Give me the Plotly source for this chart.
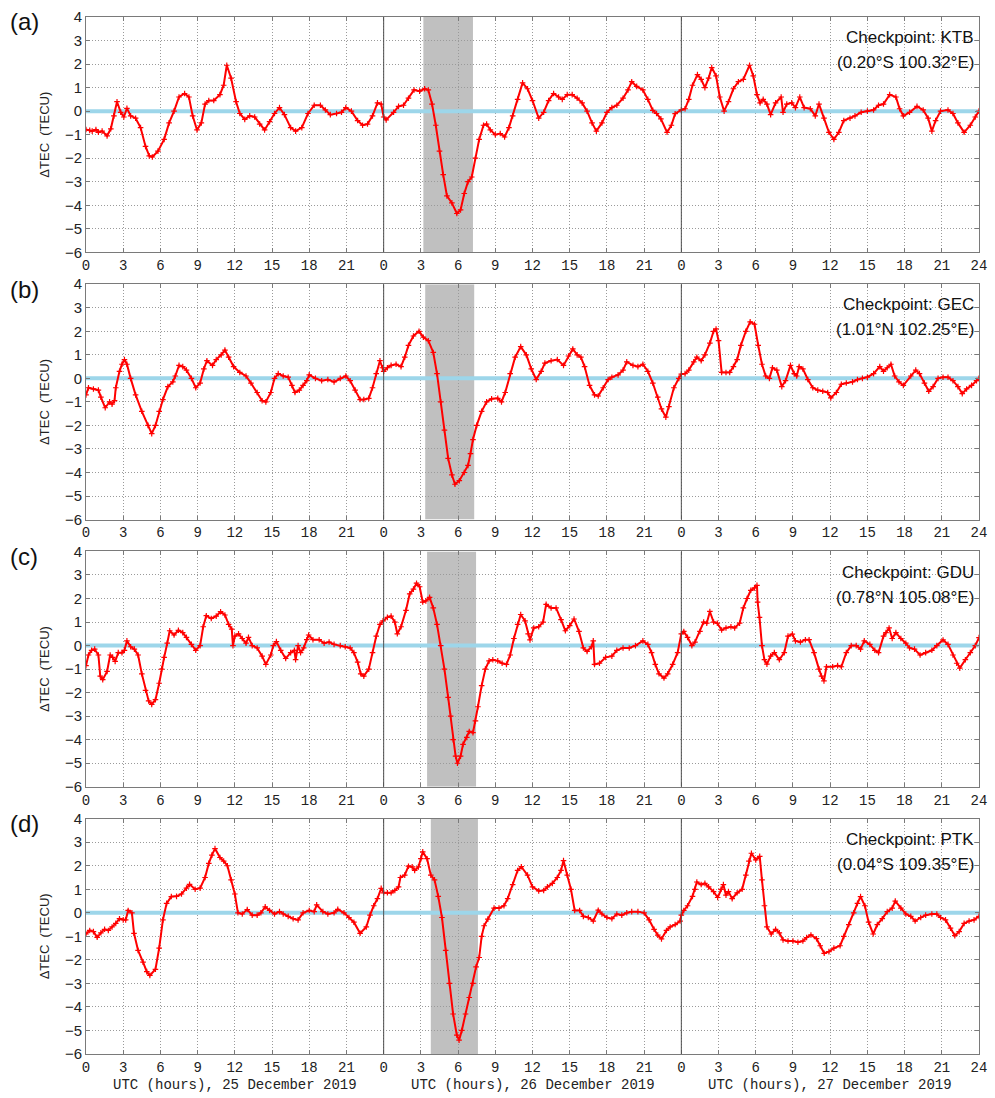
import plotly.graph_objects as go

# ΔTEC time series (hour of day, TECU) for each checkpoint, one list per UTC day
KTB_25 = [(0, -0.78), (0.3, -0.82), (0.5, -0.85), (0.8, -0.78), (1.0, -0.9), (1.3, -0.85), (1.7, -1.05),
          (2.0, -0.75), (2.25, -0.2), (2.5, 0.4), (2.8, -0.05), (3.05, -0.25), (3.3, 0.12), (3.6, -0.2),
          (4.0, -0.3), (4.4, -0.7), (4.8, -1.5), (5.1, -1.9), (5.35, -1.95), (5.8, -1.7), (6.3, -1.2),
          (6.7, -0.5), (7.1, 0.0), (7.5, 0.6), (7.95, 0.75), (8.3, 0.6), (8.6, -0.2), (8.95, -0.8),
          (9.3, -0.5), (9.6, 0.3), (9.9, 0.45), (10.3, 0.45), (10.8, 0.7), (11.1, 1.1), (11.35, 1.95),
          (11.7, 1.4), (12.1, 0.4), (12.4, -0.1), (12.8, -0.35), (13.2, -0.2), (13.6, -0.25), (14.0, -0.55),
          (14.4, -0.8), (14.8, -0.45), (15.2, -0.1), (15.6, 0.15), (16.0, -0.15), (16.5, -0.7), (16.9, -0.85),
          (17.4, -0.7), (17.9, -0.1), (18.4, 0.25), (18.9, 0.25), (19.3, 0.05), (19.7, -0.15), (20.2, -0.1),
          (20.6, -0.05), (20.95, 0.15), (21.4, 0.0), (21.9, -0.4), (22.3, -0.6), (22.7, -0.55), (23.1, -0.2),
          (23.5, 0.35), (23.8, 0.3)]
KTB_26 = [(0.0, -0.25), (0.2, -0.37), (0.8, -0.05), (1.2, 0.2), (1.6, 0.25), (2.0, 0.55), (2.45, 0.9),
          (2.9, 0.85), (3.3, 0.95), (3.6, 0.9), (3.9, 0.3), (4.2, -0.6), (4.5, -1.7), (4.8, -2.7), (5.1, -3.6),
          (5.5, -3.9), (5.9, -4.35), (6.2, -4.2), (6.5, -3.5), (6.8, -3.0), (7.1, -2.8), (7.4, -2.0),
          (7.7, -1.2), (8.05, -0.6), (8.3, -0.55), (8.6, -0.8), (9.0, -1.0), (9.4, -0.95), (9.75, -1.1),
          (10.1, -0.7), (10.4, -0.2), (10.8, 0.5), (11.2, 1.2), (11.6, 0.95), (12.0, 0.45), (12.5, -0.3),
          (12.9, -0.05), (13.3, 0.45), (13.7, 0.75), (14.1, 0.6), (14.4, 0.5), (14.8, 0.7), (15.2, 0.7),
          (15.6, 0.55), (16.0, 0.35), (16.4, 0.0), (16.8, -0.5), (17.15, -0.85), (17.6, -0.5), (18.0, -0.05),
          (18.4, 0.15), (18.8, 0.25), (19.3, 0.55), (19.7, 0.9), (20.0, 1.25), (20.4, 1.05), (20.9, 0.9),
          (21.3, 0.5), (21.7, 0.03), (22.0, -0.1), (22.35, -0.33), (22.85, -0.9), (23.2, -0.6), (23.5, -0.11)]
KTB_27 = [(0.0, 0.05), (0.3, 0.1), (0.6, 0.5), (0.9, 1.1), (1.3, 1.55), (1.6, 1.35), (1.9, 1.0), (2.2, 1.4),
          (2.45, 1.85), (2.8, 1.5), (3.1, 0.6), (3.45, 0.0), (3.8, 0.4), (4.2, 0.95), (4.6, 1.25), (5.0, 1.35),
          (5.5, 1.95), (5.8, 1.5), (6.1, 0.7), (6.35, 0.35), (6.6, 0.5), (6.9, 0.3), (7.2, -0.15), (7.6, 0.35),
          (8.05, 0.6), (8.2, -0.05), (8.5, 0.3), (8.9, 0.35), (9.2, 0.15), (9.55, 0.6), (9.9, 0.15),
          (10.4, 0.1), (10.8, -0.2), (11.1, 0.3), (11.5, -0.3), (11.9, -0.9), (12.3, -1.2), (12.7, -0.9),
          (13.1, -0.4), (13.6, -0.3), (14.0, -0.2), (14.5, -0.05), (15.0, 0.0), (15.5, 0.05), (15.9, 0.25),
          (16.3, 0.3), (16.8, 0.7), (17.3, 0.6), (17.6, 0.1), (17.9, -0.2), (18.4, -0.05), (19.0, 0.2),
          (19.5, 0.05), (19.9, -0.3), (20.2, -0.85), (20.5, -0.4), (20.9, 0.0), (21.5, 0.05), (21.9, -0.1),
          (22.3, -0.5), (22.8, -0.9), (23.3, -0.6), (23.7, -0.25), (24.0, 0.0)]

GEC_25 = [(0.0, -0.7), (0.2, -0.4), (0.6, -0.45), (1.0, -0.5), (1.2, -0.8), (1.55, -1.25), (1.9, -1.0),
          (2.1, -1.1), (2.3, -0.95), (2.4, -0.4), (2.7, 0.3), (2.9, 0.6), (3.1, 0.8), (3.3, 0.6), (3.6, 0.0),
          (4.0, -0.7), (4.5, -1.4), (5.0, -2.0), (5.3, -2.35), (5.6, -2.0), (5.9, -1.4), (6.2, -0.9),
          (6.6, -0.35), (7.0, -0.15), (7.2, 0.1), (7.5, 0.55), (7.8, 0.5), (8.1, 0.35), (8.5, 0.0),
          (8.85, -0.4), (9.2, -0.2), (9.5, 0.4), (9.75, 0.75), (10.2, 0.55), (10.5, 0.8), (10.9, 1.0),
          (11.2, 1.2), (11.5, 0.9), (11.9, 0.5), (12.4, 0.25), (12.9, 0.1), (13.3, -0.2), (13.8, -0.6),
          (14.2, -0.95), (14.5, -1.0), (14.9, -0.6), (15.2, 0.0), (15.5, 0.2), (15.9, 0.1), (16.3, 0.05),
          (16.6, -0.3), (16.85, -0.6), (17.2, -0.5), (17.5, -0.3), (17.8, -0.1), (18.0, 0.15), (18.5, 0.0),
          (19.0, -0.1), (19.5, -0.05), (20.0, -0.15), (20.5, 0.0), (20.95, 0.1), (21.3, -0.1), (21.7, -0.5),
          (22.1, -0.9), (22.4, -0.9), (22.8, -0.85), (23.1, -0.4), (23.4, 0.2), (23.7, 0.75), (23.9, 0.45)]
GEC_26 = [(0.0, 0.3), (0.3, 0.45), (0.6, 0.55), (1.0, 0.6), (1.4, 0.5), (1.7, 0.9), (2.0, 1.4), (2.4, 1.8),
          (2.85, 2.0), (3.2, 1.75), (3.6, 1.6), (4.0, 1.1), (4.3, 0.2), (4.6, -1.0), (4.9, -2.2), (5.2, -3.4),
          (5.5, -4.1), (5.75, -4.5), (6.1, -4.35), (6.5, -4.0), (6.8, -3.7), (7.0, -3.2), (7.2, -2.6),
          (7.5, -2.0), (7.9, -1.4), (8.3, -1.0), (8.7, -0.87), (9.2, -0.85), (9.5, -1.0), (9.8, -0.6),
          (10.2, 0.2), (10.6, 0.9), (11.05, 1.35), (11.5, 1.0), (11.9, 0.4), (12.3, -0.05), (12.7, 0.3),
          (13.0, 0.65), (13.5, 0.75), (14.0, 0.8), (14.5, 0.55), (14.9, 0.95), (15.25, 1.25), (15.6, 1.0),
          (15.9, 0.9), (16.2, 0.5), (16.6, -0.3), (17.0, -0.7), (17.3, -0.75), (17.7, -0.4), (18.1, -0.05),
          (18.4, 0.05), (18.9, 0.15), (19.3, 0.35), (19.6, 0.7), (20.1, 0.55), (20.5, 0.5), (20.9, 0.6),
          (21.3, 0.3), (21.7, -0.2), (22.1, -0.8), (22.4, -1.3), (22.75, -1.65), (23.0, -1.2), (23.4, -0.4),
          (23.8, 0.0)]
GEC_27 = [(0.0, 0.18), (0.3, 0.2), (0.6, 0.35), (1.0, 0.7), (1.25, 0.9), (1.6, 0.75), (1.9, 1.0), (2.3, 1.5),
          (2.6, 2.0), (2.8, 2.1), (3.0, 1.6), (3.25, 0.25), (3.6, 0.25), (3.9, 0.25), (4.2, 0.5), (4.5, 0.8),
          (4.8, 1.4), (5.2, 2.0), (5.55, 2.4), (5.9, 2.3), (6.2, 1.4), (6.5, 0.6), (6.8, 0.1), (7.1, 0.0),
          (7.35, 0.45), (7.7, 0.35), (8.1, -0.35), (8.4, -0.1), (8.8, 0.55), (9.1, 0.2), (9.3, 0.1), (9.5, 0.5),
          (9.8, 0.4), (10.2, -0.05), (10.6, -0.4), (11.0, -0.5), (11.4, -0.55), (11.8, -0.6), (12.05, -0.83),
          (12.5, -0.6), (12.9, -0.25), (13.3, -0.2), (13.8, -0.15), (14.2, -0.05), (14.6, 0.0), (15.0, 0.05),
          (15.5, 0.2), (16.0, 0.5), (16.3, 0.3), (16.6, 0.45), (16.9, 0.6), (17.2, 0.1), (17.55, -0.15),
          (17.9, -0.3), (18.5, 0.1), (18.9, 0.35), (19.2, 0.2), (19.6, -0.2), (19.95, -0.55), (20.3, -0.35),
          (20.7, 0.0), (21.1, 0.05), (21.5, 0.05), (21.9, -0.1), (22.3, -0.35), (22.65, -0.65), (23.0, -0.45),
          (23.4, -0.3), (23.8, -0.1), (24.0, 0.0)]

GDU_25 = [(0.0, -0.85), (0.2, -0.4), (0.45, -0.2), (0.7, -0.15), (1.0, -0.4), (1.15, -1.3), (1.35, -1.45),
          (1.7, -1.1), (1.95, -0.4), (2.15, -0.5), (2.35, -0.67), (2.6, -0.3), (2.9, -0.3), (3.1, -0.2),
          (3.3, 0.2), (3.6, -0.05), (3.9, -0.15), (4.2, -0.4), (4.5, -1.2), (4.8, -1.9), (5.05, -2.35),
          (5.3, -2.5), (5.6, -2.3), (5.9, -1.6), (6.1, -1.0), (6.3, -0.5), (6.55, 0.1), (6.75, 0.63),
          (7.1, 0.45), (7.45, 0.65), (7.8, 0.55), (8.1, 0.35), (8.5, 0.05), (8.85, -0.2), (9.2, 0.0),
          (9.45, 0.8), (9.7, 1.27), (10.1, 1.15), (10.5, 1.25), (10.85, 1.44), (11.2, 1.3), (11.5, 0.9),
          (11.75, 0.7), (11.85, 0.0), (12.0, 0.4), (12.3, 0.5), (12.6, 0.3), (12.9, 0.1), (13.1, 0.35),
          (13.4, 0.0), (13.8, -0.1), (14.2, -0.45), (14.5, -0.8), (14.9, -0.4), (15.1, 0.0), (15.35, 0.17),
          (15.7, -0.2), (16.1, -0.55), (16.5, -0.3), (16.8, -0.2), (16.9, -0.6), (17.1, 0.0), (17.3, -0.3),
          (17.55, -0.1), (17.8, 0.25), (17.95, 0.45), (18.3, 0.25), (18.8, 0.25), (19.2, 0.1), (19.6, 0.15),
          (20.0, 0.05), (20.5, 0.0), (20.9, -0.05), (21.3, -0.1), (21.6, -0.3), (21.9, -0.7), (22.15, -1.2),
          (22.4, -1.3), (22.8, -1.0), (23.1, -0.3), (23.4, 0.4), (23.7, 0.9), (23.95, 1.05)]
GDU_26 = [(0.3, 1.2), (0.6, 1.25), (0.9, 1.0), (1.1, 0.5), (1.4, 0.8), (1.8, 1.5), (2.1, 2.2), (2.4, 2.4),
          (2.65, 2.65), (2.9, 2.5), (3.15, 1.85), (3.4, 1.9), (3.7, 2.05), (4.0, 1.6), (4.3, 0.9), (4.6, 0.0),
          (4.9, -1.0), (5.2, -2.2), (5.4, -3.0), (5.6, -4.0), (5.8, -4.7), (5.95, -5.0), (6.2, -4.7),
          (6.4, -4.2), (6.7, -3.9), (6.9, -3.65), (7.2, -3.7), (7.4, -3.2), (7.6, -2.6), (7.9, -1.7),
          (8.2, -1.0), (8.5, -0.65), (8.8, -0.6), (9.2, -0.65), (9.55, -0.75), (9.9, -0.8), (10.2, -0.4),
          (10.5, 0.3), (10.8, 0.9), (11.05, 1.32), (11.4, 1.05), (11.65, 0.5), (11.8, 0.24), (12.1, 0.75),
          (12.5, 0.8), (12.85, 1.0), (13.1, 1.75), (13.5, 1.6), (13.9, 1.6), (14.3, 1.1), (14.65, 0.63),
          (15.0, 0.85), (15.35, 1.13), (15.75, 0.6), (16.1, -0.1), (16.4, -0.25), (16.75, -0.05), (16.9, 0.2),
          (17.0, -0.8), (17.4, -0.75), (17.9, -0.5), (18.4, -0.45), (18.8, -0.2), (19.3, -0.1), (19.8, -0.1),
          (20.3, 0.0), (20.9, 0.2), (21.3, 0.05), (21.6, -0.3), (21.9, -0.8), (22.2, -1.2), (22.6, -1.38),
          (22.9, -1.2), (23.3, -0.8), (23.7, -0.3)]
GDU_27 = [(0.0, 0.5), (0.2, 0.6), (0.5, 0.35), (0.85, 0.0), (1.1, 0.15), (1.5, 0.6), (1.8, 1.0), (2.05, 0.95),
          (2.3, 1.45), (2.6, 1.0), (2.9, 0.95), (3.25, 0.66), (3.6, 0.75), (4.0, 0.8), (4.3, 0.75), (4.7, 0.95),
          (5.0, 1.6), (5.3, 2.0), (5.6, 2.35), (5.9, 2.45), (6.1, 2.56), (6.15, 1.85), (6.3, 1.2), (6.5, 0.0),
          (6.7, -0.6), (6.9, -0.79), (7.2, -0.45), (7.5, -0.3), (7.9, -0.6), (8.3, -0.3), (8.6, 0.4),
          (8.95, 0.49), (9.2, 0.2), (9.6, 0.15), (10.0, 0.25), (10.3, 0.25), (10.7, -0.3), (11.1, -1.0),
          (11.3, -1.3), (11.5, -1.5), (11.7, -0.9), (12.2, -0.9), (12.6, -0.85), (12.9, -0.9), (13.3, -0.3),
          (13.7, 0.0), (14.1, 0.0), (14.45, -0.15), (14.75, 0.2), (15.2, 0.05), (15.6, -0.2), (15.9, -0.3),
          (16.3, 0.4), (16.5, 0.55), (16.75, 0.75), (17.0, 0.3), (17.3, 0.55), (17.7, 0.3), (18.1, 0.1),
          (18.4, -0.1), (18.8, -0.15), (19.25, -0.4), (19.7, -0.3), (20.2, -0.2), (20.6, 0.0), (21.1, 0.24),
          (21.5, 0.05), (21.9, -0.4), (22.2, -0.75), (22.45, -0.96), (22.9, -0.6), (23.3, -0.3), (23.7, 0.0),
          (24.0, 0.34)]

PTK_25 = [(0.0, -0.9), (0.3, -0.75), (0.6, -0.8), (0.9, -1.04), (1.2, -0.85), (1.5, -0.7), (1.8, -0.75),
          (2.1, -0.6), (2.4, -0.45), (2.7, -0.25), (3.0, -0.3), (3.2, -0.3), (3.4, 0.1), (3.7, 0.0),
          (3.87, -0.87), (4.2, -1.6), (4.6, -2.1), (4.9, -2.5), (5.15, -2.66), (5.6, -2.4), (5.9, -1.5),
          (6.2, -0.3), (6.5, 0.4), (6.88, 0.69), (7.3, 0.7), (7.7, 0.8), (8.1, 1.05), (8.35, 1.21), (8.8, 1.0),
          (9.2, 1.05), (9.6, 1.5), (9.9, 2.1), (10.15, 2.45), (10.4, 2.73), (10.8, 2.35), (11.1, 2.2),
          (11.4, 2.0), (11.7, 1.4), (12.0, 0.8), (12.25, 0.0), (12.6, -0.05), (13.0, 0.14), (13.4, -0.1),
          (13.8, -0.1), (14.1, 0.0), (14.45, 0.25), (14.8, 0.1), (15.2, -0.05), (15.6, 0.05), (15.9, -0.05),
          (16.3, -0.15), (16.7, -0.25), (17.1, -0.3), (17.5, 0.0), (18.0, 0.1), (18.4, 0.05), (18.6, 0.34),
          (19.1, 0.05), (19.5, -0.05), (20.0, 0.0), (20.3, 0.15), (20.8, 0.0), (21.2, -0.2), (21.6, -0.4),
          (22.1, -0.87), (22.6, -0.6), (22.9, -0.1), (23.2, 0.3), (23.5, 0.6), (23.8, 1.04)]
PTK_26 = [(0.0, 0.85), (0.3, 0.85), (0.6, 0.85), (0.9, 0.95), (1.2, 1.1), (1.35, 1.5), (1.7, 1.6), (2.0, 1.98),
          (2.3, 1.95), (2.5, 1.8), (2.8, 1.95), (3.0, 2.3), (3.15, 2.59), (3.5, 2.3), (3.8, 1.6), (4.1, 1.4),
          (4.4, 0.7), (4.7, -0.2), (5.0, -1.6), (5.3, -3.0), (5.6, -4.3), (5.9, -5.2), (6.08, -5.41),
          (6.3, -5.0), (6.6, -4.3), (6.9, -3.6), (7.2, -3.0), (7.45, -2.3), (7.7, -1.9), (7.9, -1.0),
          (8.1, -0.55), (8.4, -0.27), (8.9, 0.2), (9.3, 0.2), (9.7, 0.3), (10.0, 0.6), (10.4, 1.2), (10.8, 1.8),
          (11.1, 1.96), (11.6, 1.6), (12.0, 1.1), (12.5, 0.93), (12.9, 0.95), (13.2, 1.1), (13.6, 1.25),
          (14.0, 1.5), (14.3, 1.8), (14.5, 2.22), (14.8, 1.6), (15.1, 1.0), (15.4, 0.1), (15.8, 0.1),
          (16.1, -0.15), (16.5, -0.2), (16.9, -0.35), (17.3, 0.11), (17.6, -0.05), (18.0, -0.2), (18.4, -0.25),
          (18.8, -0.05), (19.2, -0.1), (19.6, 0.0), (20.0, 0.05), (20.5, 0.05), (21.0, 0.0), (21.4, -0.3),
          (21.8, -0.7), (22.1, -0.95), (22.4, -1.11), (22.8, -0.75), (23.1, -0.6), (23.5, -0.5), (23.9, -0.35)]
PTK_27 = [(0.0, -0.1), (0.2, 0.1), (0.5, 0.3), (0.9, 0.7), (1.1, 1.0), (1.25, 1.31), (1.6, 1.2), (1.9, 1.25),
          (2.2, 1.1), (2.6, 0.9), (2.93, 0.65), (3.2, 1.0), (3.39, 1.2), (3.6, 0.75), (3.8, 0.9), (4.1, 0.6),
          (4.5, 0.85), (4.9, 1.0), (5.2, 1.6), (5.45, 2.2), (5.65, 2.53), (6.0, 2.25), (6.32, 2.4), (6.5, 1.4),
          (6.7, 0.3), (6.9, -0.6), (7.25, -0.9), (7.6, -0.7), (7.9, -0.85), (8.2, -1.15), (8.6, -1.2),
          (9.0, -1.2), (9.4, -1.25), (9.8, -1.2), (10.1, -1.05), (10.45, -0.94), (10.9, -1.1), (11.2, -1.4),
          (11.52, -1.72), (11.9, -1.65), (12.3, -1.5), (12.8, -1.4), (13.1, -1.0), (13.5, -0.5), (13.9, 0.0),
          (14.2, 0.4), (14.45, 0.69), (14.8, 0.3), (15.1, -0.4), (15.47, -0.9), (15.8, -0.5), (16.2, -0.25),
          (16.6, 0.05), (17.0, 0.2), (17.25, 0.5), (17.7, 0.2), (18.1, -0.05), (18.5, -0.15), (18.85, -0.35),
          (19.3, -0.2), (19.7, -0.1), (20.2, -0.05), (20.6, -0.05), (20.9, -0.2), (21.3, -0.3), (21.7, -0.65),
          (22.05, -0.97), (22.4, -0.8), (22.8, -0.45), (23.2, -0.35), (23.6, -0.3), (24.0, -0.15)]

STATIONS = ["KTB", "GEC", "GDU", "PTK"]
COORDS = ["(0.20°S 100.32°E)", "(1.01°N 102.25°E)", "(0.78°N 105.08°E)", "(0.04°S 109.35°E)"]
PANEL_TAGS = ["(a)", "(b)", "(c)", "(d)"]
SERIES = [[KTB_25, KTB_26, KTB_27], [GEC_25, GEC_26, GEC_27],
          [GDU_25, GDU_26, GDU_27], [PTK_25, PTK_26, PTK_27]]
# eclipse window on 26 December (UTC hours) for each checkpoint
ECLIPSE = [(3.2, 7.2), (3.35, 7.3), (3.5, 7.45), (3.8, 7.6)]
DAY_TITLES = ["UTC (hours), 25 December 2019", "UTC (hours), 26 December 2019",
              "UTC (hours), 27 December 2019"]

W, H = 995, 1098
ML, MR, MT, MB = 86, 8, 14, 44
plot_h = H - MT - MB
row_tops = [14, 282, 550, 818]
row_h = 236


def dom(top):
    return [(H - MB - (top + row_h)) / plot_h, (H - MB - top) / plot_h]


fig = go.Figure()
tickvals = list(range(0, 73, 3))
ticktext = [str(v % 24) if v < 72 else "24" for v in tickvals]

mono = "Liberation Mono, DejaVu Sans Mono, monospace"
sans = "Liberation Sans, Arial, sans-serif"
grid = dict(showgrid=True, gridcolor="#9a9a9a", griddash="1px,2px", gridwidth=1)

for i in range(4):
    xa = "x" if i == 0 else f"x{i + 1}"
    ya = "y" if i == 0 else f"y{i + 1}"
    xs, ys = [], []
    for d, day in enumerate(SERIES[i]):
        for h, v in day:
            xs.append(24 * d + h)
            ys.append(v)
    # zero reference
    fig.add_trace(go.Scatter(x=[0, 72], y=[0, 0], mode="lines", xaxis=xa, yaxis=ya,
                             line=dict(color="#9dd6ea", width=4), hoverinfo="skip", showlegend=False))
    fig.add_trace(go.Scatter(x=xs, y=ys, mode="lines+markers", xaxis=xa, yaxis=ya,
                             line=dict(color="#ff0000", width=2),
                             marker=dict(symbol="cross-thin", size=4, line=dict(color="#ff0000", width=1.2)),
                             showlegend=False))
    e0, e1 = ECLIPSE[i]
    fig.add_shape(type="rect", xref=xa, yref=ya, x0=24 + e0, x1=24 + e1, y0=-6, y1=4,
                  fillcolor="#c0c0c0", line=dict(width=0), layer="below")
    for xb in (24, 48):
        fig.add_shape(type="line", xref=xa, yref=ya, x0=xb, x1=xb, y0=-6, y1=4,
                      line=dict(color="#505050", width=1), layer="above")

    axis_x = dict(range=[0, 72], tickvals=tickvals, ticktext=ticktext, **grid,
                  showline=True, mirror="ticks",
                  linecolor="#7a7a7a", linewidth=1, ticks="inside", ticklen=4, tickcolor="#7a7a7a",
                  tickfont=dict(family=mono, size=14, color="#222"), zeroline=False,
                  anchor=ya, domain=[0, 1])
    axis_y = dict(range=[-6, 4], dtick=1, tick0=0, **grid,
                  showline=True, mirror="ticks", linecolor="#7a7a7a", linewidth=1,
                  ticks="inside", ticklen=4, tickcolor="#7a7a7a",
                  tickfont=dict(family=sans, size=15, color="#222"), zeroline=False,
                  title=dict(text="ΔTEC  (TECU)", font=dict(family=sans, size=13, color="#222"), standoff=12),
                  anchor=xa, domain=dom(row_tops[i]))
    fig.layout["xaxis" if i == 0 else f"xaxis{i + 1}"] = axis_x
    fig.layout["yaxis" if i == 0 else f"yaxis{i + 1}"] = axis_y

    # station label
    fig.add_annotation(x=71.75, y=3.12, xref=xa, yref=ya, text=f"Checkpoint: {STATIONS[i]}",
                       showarrow=False, xanchor="right", yanchor="middle",
                       font=dict(family=sans, size=17, color="#111"))
    fig.add_annotation(x=71.75, y=2.06, xref=xa, yref=ya, text=COORDS[i],
                       showarrow=False, xanchor="right", yanchor="middle",
                       font=dict(family=sans, size=17, color="#111"))
    # panel tag
    tag_y = (H - MB - (row_tops[i] + 5)) / plot_h
    fig.add_annotation(x=(7 - ML) / (W - ML - MR), y=tag_y, xref="paper", yref="paper",
                       text=PANEL_TAGS[i], showarrow=False, xanchor="left", yanchor="middle",
                       font=dict(family=sans, size=24, color="#111"))

for d, title in enumerate(DAY_TITLES):
    fig.add_annotation(x=12 + 24 * d, y=-(1085 - (H - MB)) / plot_h, xref="x4", yref="paper",
                       text=title, showarrow=False, xanchor="center", yanchor="middle",
                       font=dict(family=mono, size=14, color="#222"))

fig.update_layout(width=W, height=H, margin=dict(l=ML, r=MR, t=MT, b=MB),
                  paper_bgcolor="white", plot_bgcolor="white", showlegend=False)

fig.write_html("out.html")
